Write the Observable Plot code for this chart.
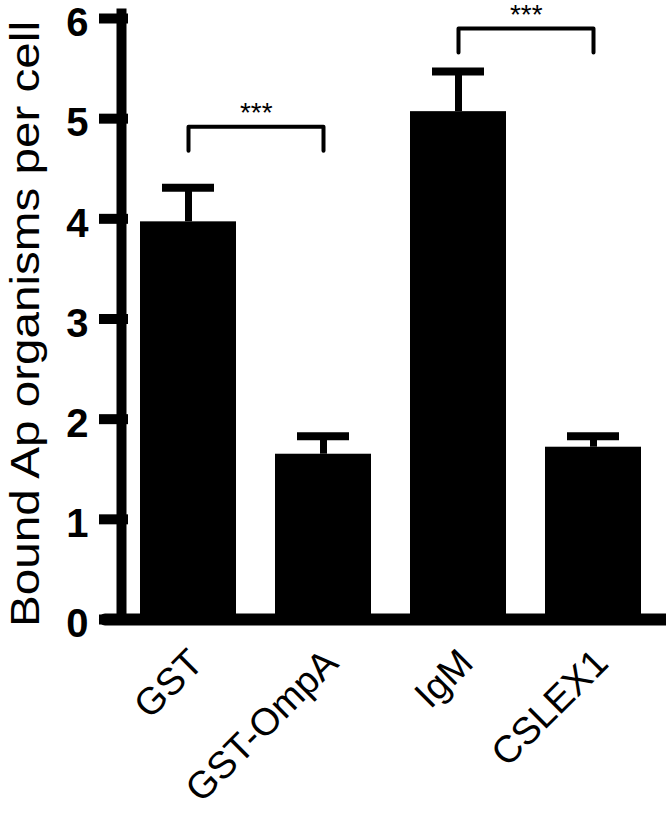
<!DOCTYPE html>
<html><head><meta charset="utf-8">
<script src="https://cdn.jsdelivr.net/npm/d3@7"></script>
<script src="https://cdn.jsdelivr.net/npm/@observablehq/plot@0.6"></script>
<style>body{margin:0;background:#fff} #chart svg{display:block}</style>
</head><body><div id="chart"></div>
<script>
const categories = ["GST", "GST-OmpA", "IgM", "CSLEX1"];
const means = [3.97, 1.65, 5.07, 1.72];
const sems = [0.34, 0.18, 0.40, 0.11];
const yTicks = [0, 1, 2, 3, 4, 5, 6];
const yTitle = "Bound Ap organisms per cell";
const bracketFrom = ["GST", "IgM"];
const bracketTo = ["GST-OmpA", "CSLEX1"];
const bracketTop = [4.92, 5.90];
const bracketBottom = [4.68, 5.66];
const starLabels = ["***", "***"];
const starY = [4.97, 5.95];

const bars = categories.map((c, i) => ({cat: c, mean: means[i], hi: means[i] + sems[i]}));
const bracketPts = bracketFrom.flatMap((a, i) => [
  {g: i, x: a, y: bracketBottom[i]},
  {g: i, x: a, y: bracketTop[i]},
  {g: i, x: bracketTo[i], y: bracketTop[i]},
  {g: i, x: bracketTo[i], y: bracketBottom[i]}
]);
const stars = bracketFrom.map((a, i) => ({x: a, y: starY[i], t: starLabels[i]}));

const W = 666, H = 817;
const xRange = [100, 681], xPad = 0.289;
const step = (xRange[1] - xRange[0]) / (categories.length + xPad);
const font = "'Liberation Sans', Arial, Helvetica, sans-serif";

const chart = Plot.plot({
  width: W, height: H,
  marginTop: 18, marginBottom: 198, marginLeft: 121, marginRight: 0,
  style: {fontFamily: font, background: "#fff", color: "#000"},
  x: {domain: categories, range: xRange, padding: xPad},
  y: {domain: [0, 6]},
  marks: [
    Plot.barY(bars, {x: "cat", y: "mean", fill: "#000"}),
    Plot.ruleX(bars, {x: "cat", y1: "mean", y2: "hi", strokeWidth: 7}),
    Plot.tickY(bars, {x: "cat", y: "hi", strokeWidth: 8, inset: 22}),
    Plot.line(bracketPts, {x: "x", y: "y", z: "g", strokeWidth: 4, strokeLinejoin: "round"}),
    Plot.text(stars, {x: "x", y: "y", text: "t", dx: step / 2, fontSize: 28, lineAnchor: "bottom"}),
    Plot.frame({anchor: "left", strokeWidth: 10, insetTop: -5}),
    Plot.ruleY([0], {strokeWidth: 12, strokeLinecap: "round", insetLeft: -16}),
    Plot.axisY(yTicks, {tickSize: 29, strokeWidth: 10, insetLeft: 7, fill: "none", label: null}),
    Plot.axisY(yTicks, {tickSize: 29, stroke: "none", insetLeft: 7, tickPadding: 11, dy: 5, fontSize: 40, fontWeight: "bold", label: null, tickFormat: d => String(d)}),
    Plot.axisX({tickSize: 0, tickRotate: -45, tickPadding: 37, dx: 8, fontSize: 38, lineAnchor: "middle", label: null}),
    Plot.text([yTitle], {frameAnchor: "left", rotate: -90, textAnchor: "middle", lineAnchor: "bottom", dx: -83, dy: 5, fontSize: 41})
  ]
});
document.getElementById("chart").appendChild(chart);
chart.querySelectorAll("text").forEach(t => {
  if (t.textContent === yTitle) {
    t.setAttribute("textLength", 606);
    t.setAttribute("lengthAdjust", "spacingAndGlyphs");
  }
});
</script>
</body></html>
